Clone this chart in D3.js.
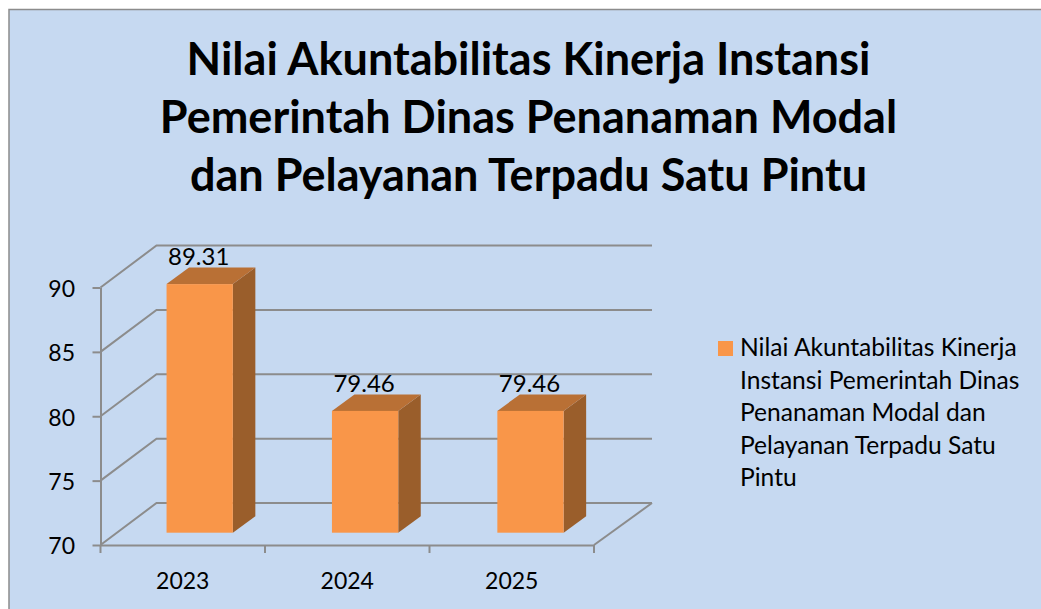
<!DOCTYPE html>
<html>
<head>
<meta charset="utf-8">
<script src="https://cdn.jsdelivr.net/npm/d3@7"></script>
<style>
html, body { margin: 0; padding: 0; background: #fff; overflow: hidden; }
text { font-family: Lato, "Open Sans", sans-serif; fill: #000; }
</style>
</head>
<body>
<div id="chart"></div>
<script>
var categories = ["2023", "2024", "2025"];
var values = [89.31, 79.46, 79.46];
var yTicks = [70, 75, 80, 85, 90];
var titleLines = [
    "Nilai Akuntabilitas Kinerja Instansi",
    "Pemerintah Dinas Penanaman Modal",
    "dan Pelayanan Terpadu Satu Pintu"
];
var legendLines = [
    "Nilai Akuntabilitas Kinerja",
    "Instansi Pemerintah Dinas",
    "Penanaman Modal dan",
    "Pelayanan Terpadu Satu",
    "Pintu"
];

var w = 1041;
var h = 609;
var gris = "#8c8c8c";

// caja 3d: desplazamiento del fondo y de la barra
var fondoX = 58, fondoY = -42;
var barraY = -12.3;
var profX = 22.5, profY = -16.5;

var svg = d3.select("#chart").append("svg")
    .attr("width", w)
    .attr("height", h)
    .style("display", "block");

// fondo del grafico
svg.append("rect")
    .attr("x", 9)
    .attr("y", 9.5)
    .attr("width", w)
    .attr("height", h)
    .attr("fill", "#c6d9f1")
    .attr("stroke", gris)
    .attr("stroke-width", 1.5);

var x = d3.scaleBand().domain(categories).range([100.5, 594]);
var y = d3.scaleLinear().domain([70, 90]).range([545, 287.5]);
// plano de las barras, algo metido hacia el fondo
var xBarra = d3.scaleBand().domain(categories).range([117, 613.2]);

// lineas de la rejilla: pared izquierda y pared del fondo
svg.selectAll(".grid")
    .data(yTicks)
    .enter()
    .append("path")
    .attr("class", "grid")
    .attr("fill", "none")
    .attr("stroke", gris)
    .attr("stroke-width", 2)
    .attr("d", function(d) {
        var p = d3.path();
        p.moveTo(100.5, y(d));
        p.lineTo(156.5, y(d) + fondoY);
        p.lineTo(594 + fondoX, y(d) + fondoY);
        return p.toString();
    });

// borde derecho del suelo
var suelo = d3.path();
suelo.moveTo(594, y(70));
suelo.lineTo(594 + fondoX, y(70) + fondoY);
svg.append("path")
    .attr("d", suelo.toString())
    .attr("fill", "none")
    .attr("stroke", gris)
    .attr("stroke-width", 2);

// ejes
var ejeY = svg.append("g")
    .attr("transform", "translate(100.5,0)")
    .call(d3.axisLeft(y).tickValues(yTicks).tickSize(8).tickSizeOuter(0));

var ejeX = svg.append("g")
    .attr("transform", "translate(0," + y(70) + ")")
    .call(d3.axisBottom(x).tickSize(0).tickSizeOuter(0));

// marcas entre categorias
ejeX.selectAll(".sep")
    .data(categories.concat("fin"))
    .enter()
    .append("line")
    .attr("class", "sep")
    .attr("x1", function(d, i) { return 100.5 + i * x.step(); })
    .attr("x2", function(d, i) { return 100.5 + i * x.step(); })
    .attr("y1", 0)
    .attr("y2", 8);

svg.selectAll("g path.domain, g line")
    .attr("stroke", gris)
    .attr("stroke-width", 2);

ejeY.selectAll("text")
    .style("font-family", "Lato")
    .style("font-size", "23px")
    .attr("dy", "0.34em")
    .attr("y", 1)
    .attr("x", -25.5);

ejeX.selectAll("text")
    .style("font-family", "Lato")
    .style("font-size", "23px")
    .attr("dy", 0)
    .attr("y", 43.5);

// barras
var anchoBarra = 66.3;
var yBar = function(d) { return y(d) + barraY; };
var xBar = function(i) {
    return xBarra(categories[i]) + (xBarra.step() - anchoBarra) / 2;
};

var barras = svg.selectAll(".barra")
    .data(values)
    .enter()
    .append("g")
    .attr("class", "barra");

// cara lateral
barras.append("path")
    .attr("fill", "#9a5e2b")
    .attr("d", function(d, i) {
        var xd = xBar(i) + anchoBarra;
        var p = d3.path();
        p.moveTo(xd, yBar(d));
        p.lineTo(xd + profX, yBar(d) + profY);
        p.lineTo(xd + profX, yBar(70) + profY);
        p.lineTo(xd, yBar(70));
        p.closePath();
        return p.toString();
    });

// cara superior
barras.append("path")
    .attr("fill", "#b97035")
    .attr("d", function(d, i) {
        var xi = xBar(i);
        var p = d3.path();
        p.moveTo(xi, yBar(d));
        p.lineTo(xi + profX, yBar(d) + profY);
        p.lineTo(xi + anchoBarra + profX, yBar(d) + profY);
        p.lineTo(xi + anchoBarra, yBar(d));
        p.closePath();
        return p.toString();
    });

// cara frontal
barras.append("rect")
    .attr("fill", "#f99649")
    .attr("x", function(d, i) { return xBar(i); })
    .attr("y", function(d) { return yBar(d); })
    .attr("width", anchoBarra)
    .attr("height", function(d) { return yBar(70) - yBar(d); });

// etiquetas de valor
barras.append("text")
    .text(function(d) { return d3.format(".2f")(d); })
    .attr("x", function(d, i) { return xBar(i) + anchoBarra / 2 - 1; })
    .attr("y", function(d) { return yBar(d) - 19; })
    .attr("text-anchor", "middle")
    .style("font-size", "24px");

// titulo
svg.selectAll(".titulo")
    .data(titleLines)
    .enter()
    .append("text")
    .attr("class", "titulo")
    .text(function(d) { return d; })
    .attr("x", 528.5)
    .attr("y", function(d, i) { return 74.5 + i * 58.3; })
    .attr("text-anchor", "middle")
    .style("font-size", "45px")
    .style("font-weight", "700");

// leyenda
svg.append("rect")
    .attr("x", 718)
    .attr("y", 341)
    .attr("width", 15)
    .attr("height", 15)
    .attr("fill", "#f99649");

svg.selectAll(".leyenda")
    .data(legendLines)
    .enter()
    .append("text")
    .attr("class", "leyenda")
    .text(function(d) { return d; })
    .attr("x", 740)
    .attr("y", function(d, i) { return 356 + i * 32.5; })
    .style("font-size", "24.6px");
</script>
</body>
</html>
